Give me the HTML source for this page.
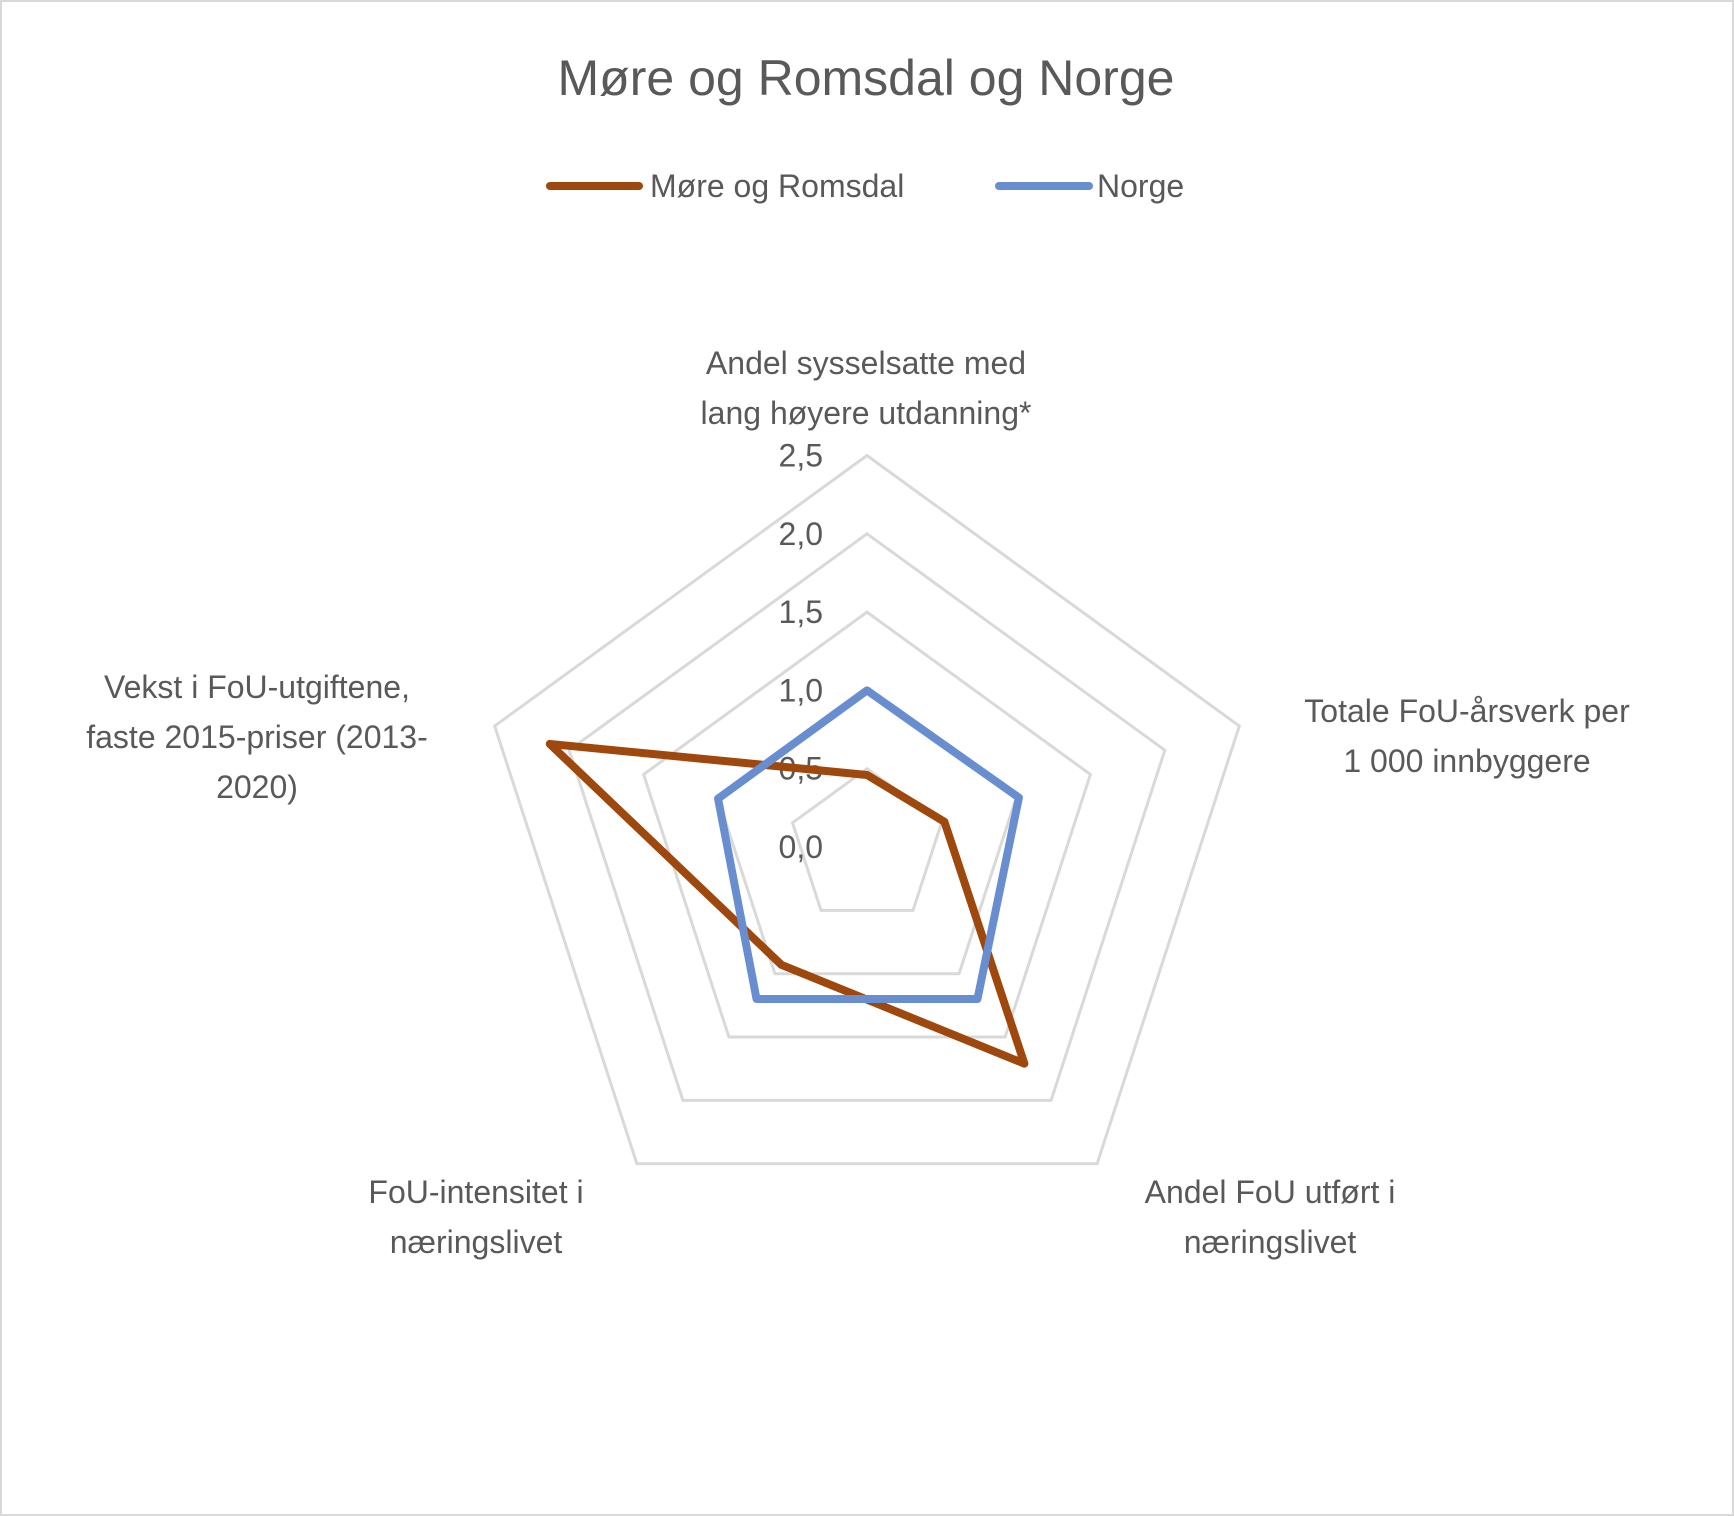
<!DOCTYPE html>
<html><head><meta charset="utf-8"><style>
html,body{margin:0;padding:0;background:#fff}
svg{display:block}
text{font-family:"Liberation Sans",sans-serif;fill:#595959}
</style></head><body>
<svg width="1734" height="1516" viewBox="0 0 1734 1516" xmlns="http://www.w3.org/2000/svg">
<rect x="1" y="1" width="1732" height="1514" fill="#fff" stroke="#d9d9d9" stroke-width="2"/>
<text x="866" y="95" font-size="50" text-anchor="middle">Møre og Romsdal og Norge</text>
<g>
<line x1="550" y1="186" x2="639" y2="186" stroke="#9e480e" stroke-width="8" stroke-linecap="round"/>
<text x="650" y="197" font-size="32">Møre og Romsdal</text>
<line x1="999" y1="186" x2="1089" y2="186" stroke="#698ed0" stroke-width="8" stroke-linecap="round"/>
<text x="1097" y="197" font-size="32">Norge</text>
</g>
<g id="grid"></g>
<g id="ticks"></g>
<g id="series"></g>
<g font-size="32" text-anchor="middle">
<text x="866"><tspan x="866" y="374">Andel sysselsatte med</tspan><tspan x="866" y="424">lang høyere utdanning*</tspan></text>
<text><tspan x="1467" y="722">Totale FoU-årsverk per</tspan><tspan x="1467" y="772">1 000 innbyggere</tspan></text>
<text><tspan x="1270" y="1203">Andel FoU utført i</tspan><tspan x="1270" y="1253">næringslivet</tspan></text>
<text><tspan x="476" y="1203">FoU-intensitet i</tspan><tspan x="476" y="1253">næringslivet</tspan></text>
<text><tspan x="257" y="698">Vekst i FoU-utgiftene,</tspan><tspan x="257" y="748">faste 2015-priser (2013-</tspan><tspan x="257" y="798">2020)</tspan></text>
</g>
</svg>
<script>
const categories = ["Andel sysselsatte med lang høyere utdanning*","Totale FoU-årsverk per 1 000 innbyggere","Andel FoU utført i næringslivet","FoU-intensitet i næringslivet","Vekst i FoU-utgiftene"];
const moreValues = [0.46, 0.52, 1.71, 0.93, 2.13];
const norgeValues = [1.0, 1.02, 1.2, 1.2, 1.0];
const tickValues = [0, 0.5, 1.0, 1.5, 2.0, 2.5];
const tickLabels = ["0,0","0,5","1,0","1,5","2,0","2,5"];
const CX = 867, CY = 847, R = 391.5, MAX = 2.5;
const NS = "http://www.w3.org/2000/svg";
function pt(i, v){const a = -Math.PI/2 + i*2*Math.PI/categories.length; const r = v/MAX*R; return [CX + r*Math.cos(a), CY + r*Math.sin(a)];}
const grid = document.getElementById('grid');
tickValues.forEach((t, k) => {
  if (t === 0) return;
  const p = document.createElementNS(NS, 'polygon');
  
  
  p.setAttribute('points', categories.map((c, i) => pt(i, t).join(',')).join(' '));
  p.setAttribute('fill', 'none'); p.setAttribute('stroke', '#d9d9d9'); p.setAttribute('stroke-width', '3');
  grid.appendChild(p);
});
const ticks = document.getElementById('ticks');
tickValues.forEach((t, k) => {
  const tx = document.createElementNS(NS, 'text');
  
  
  tx.setAttribute('x', 823); tx.setAttribute('y', CY - t/MAX*R + 11);
  tx.setAttribute('text-anchor', 'end'); tx.setAttribute('font-size', '32');
  tx.textContent = tickLabels[k];
  ticks.appendChild(tx);
});
const series = document.getElementById('series');
[[moreValues, '#9e480e', 'series-more-og-romsdal'], [norgeValues, '#698ed0', 'series-norge']].forEach(([vals, col, name]) => {
  const p = document.createElementNS(NS, 'polygon');
  
  
  p.setAttribute('points', vals.map((v, i) => pt(i, v).join(',')).join(' '));
  p.setAttribute('fill', 'none'); p.setAttribute('stroke', col); p.setAttribute('stroke-width', '8'); p.setAttribute('stroke-linejoin', 'round');
  series.appendChild(p);
});
</script>
</body></html>
